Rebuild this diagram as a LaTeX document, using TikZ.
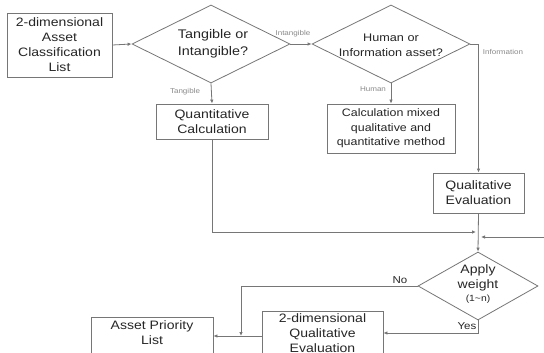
\documentclass[tikz,border=0pt]{standalone}
\usepackage{fontspec}
\setmainfont{Liberation Sans}[FakeStretch=1.15]
\usetikzlibrary{shapes.geometric,arrows.meta}
\definecolor{linec}{HTML}{767676}
\definecolor{txtc}{HTML}{262626}
\definecolor{lblc}{HTML}{8A8A8A}
\tikzset{
  x=1pt, y=-1pt,
  boxn/.style={draw=linec, line width=0.8pt, rectangle, inner sep=0pt, align=center, text=txtc, font=\fontsize{12.2}{15}\selectfont},
  decn/.style={draw=linec, line width=0.8pt, diamond, inner sep=0pt},
  txt/.style={text=txtc, align=center, inner sep=0pt, font=\fontsize{12.2}{15}\selectfont},
  lbl/.style={text=lblc, font=\fontsize{7}{8}\selectfont, inner sep=0pt},
  blbl/.style={text=txtc, font=\fontsize{10}{12}\selectfont, inner sep=0pt},
  arr/.style={draw=linec, line width=0.8pt, -{Latex[length=4pt,width=3.5pt]}},
}
\begin{document}
\begin{tikzpicture}
\useasboundingbox (0,0) rectangle (544,353);
\clip (0,0) rectangle (544,353);
\fill[white] (0,0) rectangle (544,353);
% nodes
\node[boxn, minimum width=105pt, minimum height=64pt] (list) at (59.5,45) {2-dimensional\\Asset\\Classification\\List};
\node[decn, minimum width=158pt, minimum height=78pt] (d1) at (211,44) {};
\node[txt, font=\fontsize{12.5}{17}\selectfont] (d1t) at (213,44) {Tangible or\\Intangible?};
\node[decn, minimum width=158pt, minimum height=78pt] (d2) at (391,44) {};
\node[txt, font=\fontsize{11}{15}\selectfont] (d2t) at (391,45) {Human or\\Information asset?};
\node[boxn, minimum width=112pt, minimum height=35pt] (qc) at (212,121.5) {Quantitative\\Calculation};
\node[boxn, minimum width=128pt, minimum height=49pt, font=\fontsize{10.8}{14.5}\selectfont] (mx) at (391,128.5) {Calculation mixed\\qualitative and\\quantitative method};
\node[boxn, minimum width=91pt, minimum height=40pt] (qe) at (478.5,193) {Qualitative\\Evaluation};
\node[decn, minimum width=120pt, minimum height=68pt] (d3) at (478,286) {};
\node[txt] (d3t) at (478,284) {Apply\\weight\\[-2pt]{\fontsize{9}{10}\selectfont (1\textasciitilde n)}};
\node[boxn, minimum width=121pt, minimum height=60pt, anchor=north] (dq) at (322.5,311) {};
\node[txt, anchor=north] (dqt) at (322.5,313) {2-dimensional\\Qualitative\\Evaluation};
\node[boxn, minimum width=122pt, minimum height=60pt, anchor=north] (ap) at (152,317) {};
\node[txt, anchor=north] (apt) at (152,320) {Asset Priority\\List};
% coordinates
\coordinate (m1) at (476,232);
\coordinate (r0) at (546,237);
\coordinate (r1) at (481,237);
\coordinate (n1) at (241,286);
\coordinate (n2) at (241,336);
\coordinate (y1) at (478,333);
% labels
\node[lbl] (lint) at (293,34) {Intangible};
\node[lbl] (ltan) at (185,92) {Tangible};
\node[lbl] (lhum) at (373,89) {Human};
\node[lbl] (linf) at (503,52) {Information};
\node[blbl] (lno) at (400,280) {No};
\node[blbl] (lyes) at (467,326) {Yes};
% connectors
\draw[arr] (list.east) -- (d1.west);
\draw[arr] (d1.east) -- (d2.west);
\draw[arr] (d1.south) -- (qc.north);
\draw[arr] (d2.south) -- (mx.north);
\draw[arr] (d2.east) -| (qe.north);
\draw[arr] (qc.south) |- (m1);
\draw[arr] (r0) -- (r1);
\draw[arr] (qe.south) -- (d3.north);
\draw[arr] (d3.south) -- (y1) -- (dq.east |- y1);
\draw[arr] (d3.west) -- (n1) -- (n2);
\draw[arr] (dq.west |- n2) -- (ap.east |- n2);
\end{tikzpicture}
\end{document}
